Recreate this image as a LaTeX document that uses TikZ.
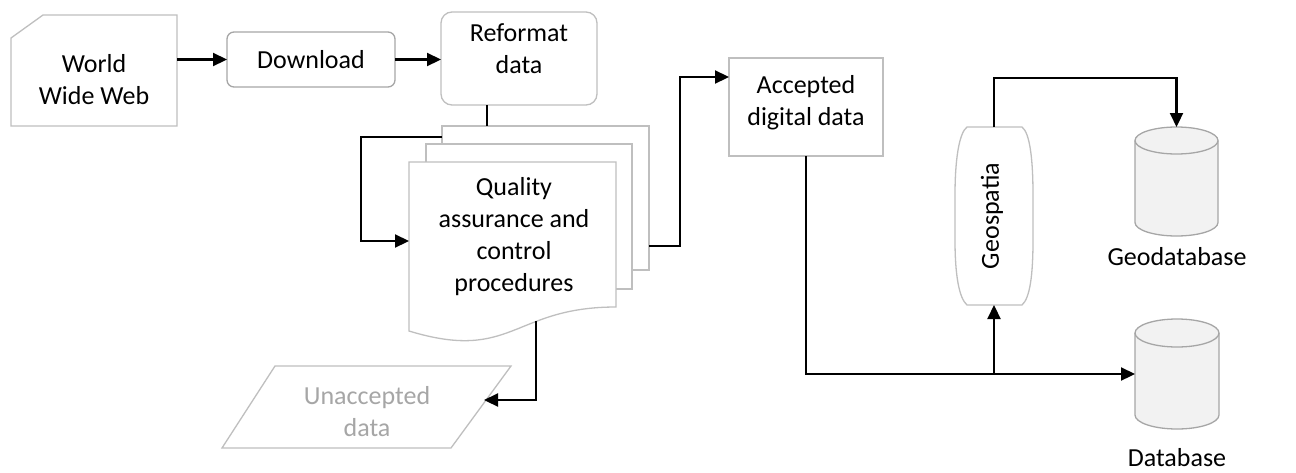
\documentclass[tikz,border=0pt]{standalone}
\usepackage{fontspec}
\setmainfont{Carlito}
\usetikzlibrary{arrows.meta,calc}
\definecolor{bord}{HTML}{BFBFBF}
\definecolor{bordd}{HTML}{A6A6A6}
\definecolor{cylfill}{HTML}{F2F2F2}
\definecolor{graytext}{HTML}{A6A6A6}
\begin{document}
\begin{tikzpicture}[x=1pt,y=-1pt]
\tikzset{
  shp/.style={draw=bord, line width=1.3pt, fill=white},
  frame/.style={inner sep=0pt, outer sep=0pt},
  lbl/.style={align=center, font=\fontsize{26}{32}\selectfont, inner sep=0pt},
  conn/.style={line width=2.2pt, -{Triangle[length=14pt,width=13pt]}},
  plain/.style={line width=2.2pt},
  cyl/.style={draw=bordd, line width=1.3pt, fill=cylfill},
}
\useasboundingbox (0,0) rectangle (1296,472);

% World Wide Web
\node[frame, minimum width=166pt, minimum height=111pt] (www) at (94,70.5) {};
\draw[shp] (11,38) -- (43,15) -- (177,15) -- (177,126) -- (11,126) -- cycle;
\node[lbl] (wwwt) at (94,80) {World\\Wide Web};

% Download
\node[shp, draw=bordd, rounded corners=7pt, frame, minimum width=168pt, minimum height=55pt] (dl) at (311,59.5) {};
\node[lbl] (dlt) at (311,60) {Download};

% Reformat
\node[shp, rounded corners=11pt, frame, minimum width=156pt, minimum height=93pt] (ref) at (519,58.5) {};
\node[lbl] (reft) at (519,49) {Reformat\\data};

% Multi-document
\draw[shp] (442,126) rectangle (649,270);
\draw[shp] (426,144) rectangle (632,289);
\draw[shp] (409,162) -- (616,162) -- (616,307) .. controls (512.5,307) and (512.5,362.5) .. (409,331) -- cycle;
\node[frame, minimum width=207pt, minimum height=144pt] (qback) at (545.5,198) {};
\node[frame, minimum width=207pt, minimum height=169pt] (qf) at (512.5,246.5) {};
\node[lbl] (qt) at (514,237) {Quality\\assurance and\\control\\procedures};

% Accepted digital data
\node[shp, frame, minimum width=154pt, minimum height=98pt] (acc) at (806,107) {};
\node[lbl] (acct) at (806,103) {Accepted\\digital data};

% Unaccepted data
\node[frame, minimum width=289pt, minimum height=82pt] (un) at (366.5,407) {};
\draw[shp] (275,366) -- (511,366) -- (451,448) -- (222,448) -- cycle;
\node[lbl, text=graytext] (unt) at (367,412) {Unaccepted\\data};

% Geospatia
\node[frame, minimum width=78pt, minimum height=178pt] (geo) at (994,216) {};
\draw[shp] (967,127) -- (1022,127) .. controls (1030,133) and (1033,160) .. (1033,195)
  -- (1033,240) .. controls (1033,275) and (1030,298) .. (1022,305)
  -- (967,305) .. controls (959,298) and (955,275) .. (955,240)
  -- (955,195) .. controls (955,160) and (959,133) .. (967,127) -- cycle;
\node[lbl, rotate=90] (geot) at (992,216) {Geospatia};

% Geodatabase cylinder
\node[frame, minimum width=83pt, minimum height=109pt] (gdb) at (1176.5,181.5) {};
\draw[cyl] (1135,140.5) -- (1135,222.5)
  arc[start angle=180, end angle=360, x radius=41.5pt, y radius=13.5pt]
  -- (1218,140.5)
  arc[start angle=0, end angle=180, x radius=41.5pt, y radius=13.5pt] -- cycle;
\draw[cyl, fill=none] (1135,140.5) arc[start angle=180, end angle=360, x radius=41.5pt, y radius=13.5pt];
\node[lbl] (gdbt) at (1177,257) {Geodatabase};

% Database cylinder
\node[frame, minimum width=84pt, minimum height=110pt] (db) at (1177,374) {};
\draw[cyl] (1135,333) -- (1135,415)
  arc[start angle=180, end angle=360, x radius=42pt, y radius=14pt]
  -- (1219,333)
  arc[start angle=0, end angle=180, x radius=42pt, y radius=14pt] -- cycle;
\draw[cyl, fill=none] (1135,333) arc[start angle=180, end angle=360, x radius=42pt, y radius=14pt];
\node[lbl] (dbt) at (1177,458) {Database};

% Connectors
\draw[conn] (www.east |- dl.west) -- (dl.west);
\draw[conn] (dl.east) -- (ref.west |- dl.east);
\coordinate (r1) at (487,105);
\draw[plain] (r1) -- (r1 |- qback.north);
\coordinate (fbout) at (442,137);
\coordinate (fbin) at (409,241);
\draw[conn] (fbout) -- ++(-81,0) |- (fbin);
\coordinate (qo) at (649,246);
\coordinate (accin) at (729,77);
\draw[conn] (qo) -- ++(31,0) |- (accin);
\coordinate (qbot) at (536,321);
\coordinate (unin) at (484,400);
\draw[conn] (qbot) |- (unin);
\draw[conn] (acc.south) |- (db.west);
\draw[conn] (geo.south |- db.west) -- (geo.south);
\draw[conn] (geo.north) -- ++(0,-49) -| (gdb.north);
\end{tikzpicture}
\end{document}
